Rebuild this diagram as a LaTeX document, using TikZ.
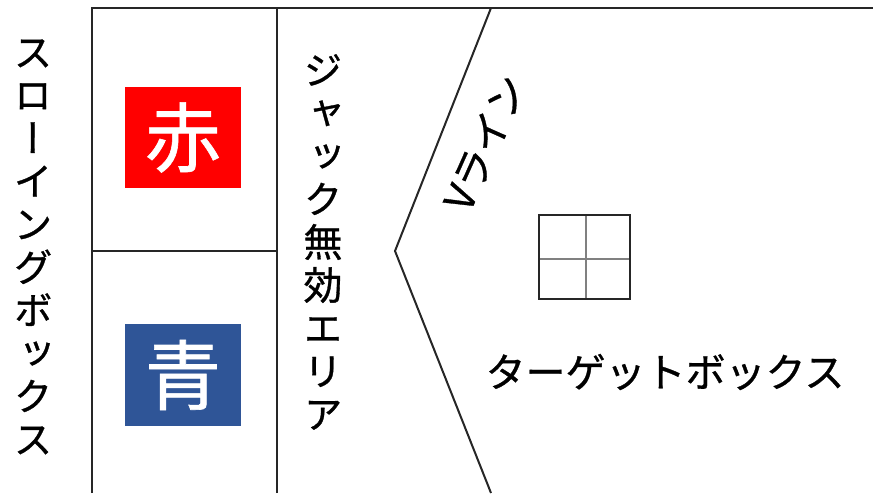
\documentclass[tikz,border=0pt]{standalone}
\usepackage{fontspec}
\newfontfamily\jp[FakeBold=0.8]{Noto Sans CJK JP}
\newfontfamily\jpv[RawFeature=+vert,FakeBold=0.8]{Noto Sans CJK JP}
\definecolor{framegray}{HTML}{262626}
\definecolor{akared}{HTML}{FF0000}
\definecolor{aoblue}{HTML}{2F5597}
\tikzset{
  frameline/.style={draw=framegray, line width=2pt},
  gridline/.style={draw=framegray, line width=1.8pt},
  gridinner/.style={draw=gray, line width=1.3pt},
  vtext/.style={font=\jpv\fontsize{39}{43}\selectfont, align=center, inner sep=0pt, text=black},
  htext/.style={font=\jp\fontsize{40}{44}\selectfont, inner sep=0pt, text=black},
  colorbox/.style={minimum width=116pt, minimum height=101pt, inner sep=0pt, text=white,
    font=\jp\fontsize{76}{80}\selectfont},
}
\begin{document}
\begin{tikzpicture}[x=1pt,y=1pt]
\useasboundingbox (0,0) rectangle (873,493);
% frame
\coordinate (bl) at (92,0);
\coordinate (tl) at (92,485);
\coordinate (tr) at (873,485);
\coordinate (mb) at (277,0);
\coordinate (mt) at (277,485);
\coordinate (hl) at (92,242);
\coordinate (hr) at (277,242);
\coordinate (vt) at (491,485);
\coordinate (vm) at (395,242);
\coordinate (vb) at (491,0);
\draw[frameline] (bl) -- (tl) -- (tr);
\draw[frameline] (mb) -- (mt);
\draw[frameline] (hl) -- (hr);
\draw[frameline] (vt) -- (vm) -- (vb);
% colored boxes
\node[colorbox, fill=akared] (red) at (183,355.5) {赤};
\node[colorbox, fill=aoblue] (blue) at (183,118) {青};
% grid
\coordinate (g1) at (539,194);
\coordinate (g2) at (630,278);
\coordinate (gmt) at (586,278);
\coordinate (gmb) at (586,194);
\coordinate (gml) at (539,234);
\coordinate (gmr) at (630,234);
\draw[gridinner] (gmt) -- (gmb) (gml) -- (gmr);
\draw[gridline] (g1) rectangle (g2);
% texts
\node[vtext] (throw) at (33,246) {ス\\ロ\\ー\\イ\\ン\\グ\\ボ\\ッ\\ク\\ス};
\node[vtext] (jack) at (323,251) {ジ\\ャ\\ッ\\ク\\無\\効\\エ\\リ\\ア};
\node[htext, rotate=66] (vline) at (485,350) {Vライン};
\node[htext] (target) at (665,121) {ターゲットボックス};
\end{tikzpicture}
\end{document}
